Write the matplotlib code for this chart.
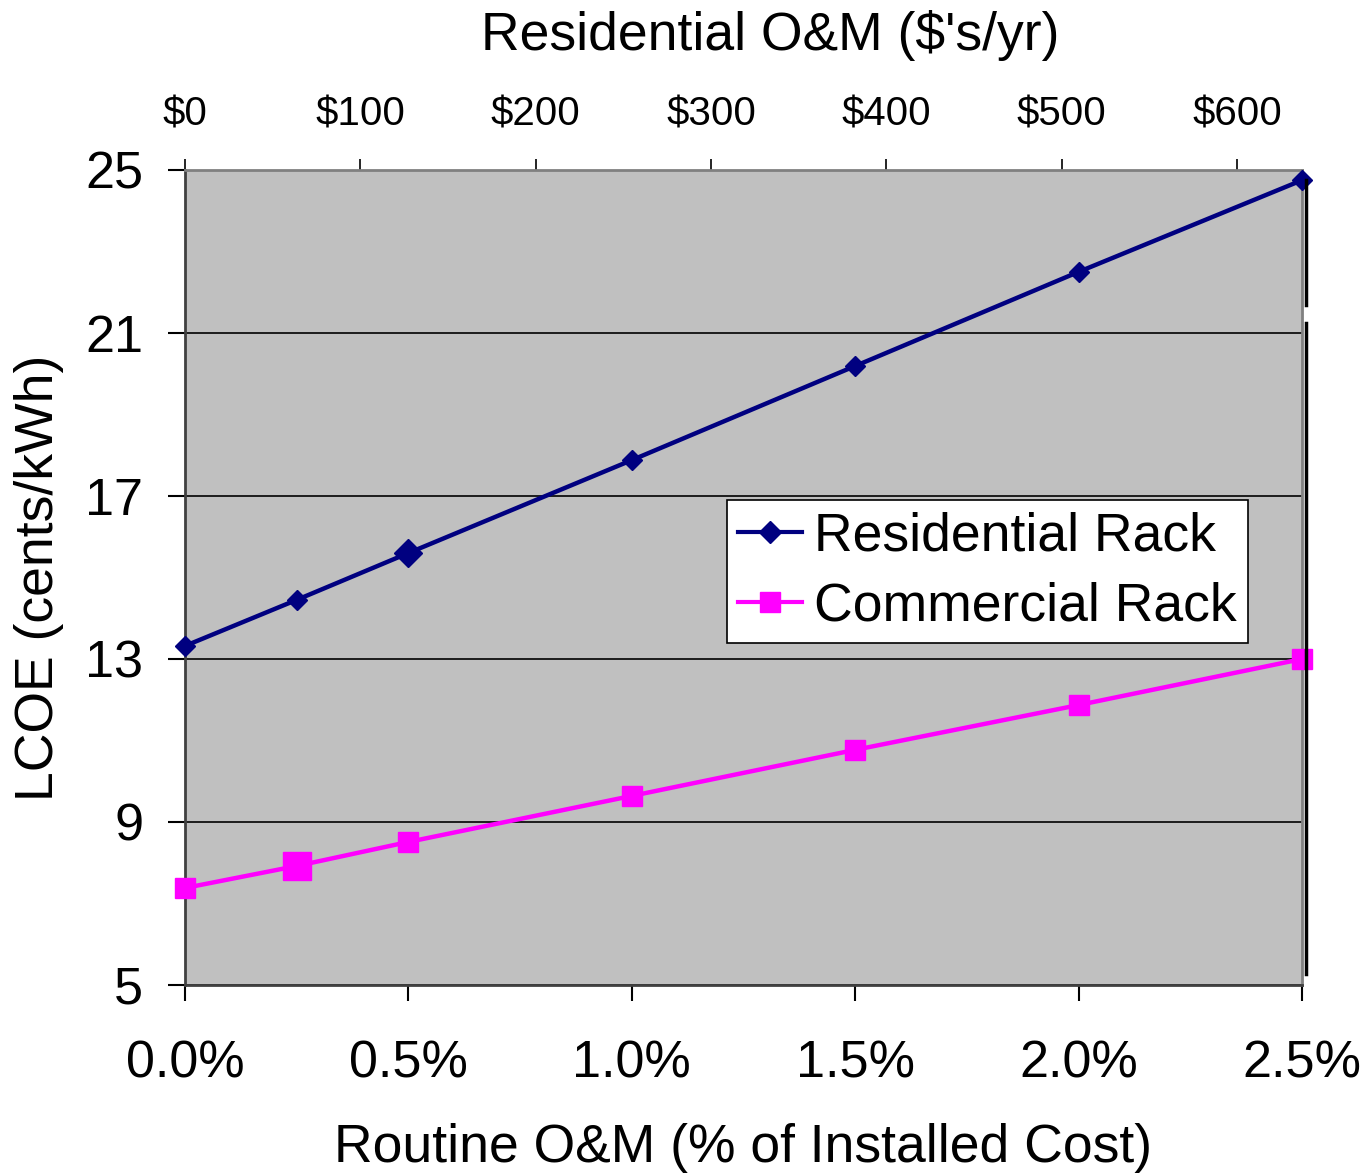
import matplotlib
matplotlib.use("Agg")
import matplotlib.pyplot as plt
from matplotlib.lines import Line2D

plt.rcParams["font.family"] = ["Liberation Sans", "DejaVu Sans"]

# routine O&M as % of installed cost, LCOE in cents/kWh
om_pct = [0.0, 0.25, 0.5, 1.0, 1.5, 2.0, 2.5]
lcoe_res = [13.32, 14.45, 15.60, 17.88, 20.19, 22.50, 24.75]
lcoe_com = [7.38, 7.92, 8.51, 9.64, 10.77, 11.87, 13.00]

# $/yr of residential O&M per 1% of installed cost
RES_DOLLARS_PER_PCT = 254.8

x_ticks = [0.0, 0.5, 1.0, 1.5, 2.0, 2.5]
x_labels = ["0.0%", "0.5%", "1.0%", "1.5%", "2.0%", "2.5%"]
y_ticks = [5, 9, 13, 17, 21, 25]
top_ticks = [0, 100, 200, 300, 400, 500, 600]
top_labels = ["$0", "$100", "$200", "$300", "$400", "$500", "$600"]

NAVY = "#000080"
MAGENTA = "#FF00FF"

fig = plt.figure(figsize=(13.69, 11.74), dpi=100)
ax = fig.add_axes([0.1351, 0.1610, 0.8160, 0.6942])
ax.set_facecolor("#C0C0C0")

ax.set_xlim(0, 2.5)
ax.set_ylim(5, 25)
ax.set_yticks(y_ticks)
ax.yaxis.grid(True, color="black", linewidth=1.2)
ax.set_axisbelow(True)

ax.plot(om_pct, lcoe_res, color=NAVY, lw=3.2, zorder=3)
ax.plot(om_pct, lcoe_com, color=MAGENTA, lw=3.2, zorder=3)
# a couple of the markers come out oversized
res_ms = [10, 10, 14.5, 10, 10, 10, 10]
com_ms = [14, 20, 14, 14, 14, 14, 14]
for x, y, m in zip(om_pct, lcoe_res, res_ms):
    ax.plot(x, y, marker="D", ms=m, color=NAVY, mec=NAVY, clip_on=False, zorder=4)
for x, y, m in zip(om_pct, lcoe_com, com_ms):
    ax.plot(x, y, marker="s", ms=m, color=MAGENTA, mec=MAGENTA, clip_on=False, zorder=4)

ax.set_xticks(x_ticks)
ax.set_xticklabels(x_labels)
ax.tick_params(axis="x", direction="out", length=11.5, width=1.5, pad=27.5,
               labelsize=37.5, colors="black")
ax.tick_params(axis="y", direction="out", length=12, width=1.5, pad=18,
               labelsize=37.5)
for side in ["top", "right"]:
    ax.spines[side].set_color("#808080")
    ax.spines[side].set_linewidth(2)
for side in ["left", "bottom"]:
    ax.spines[side].set_color("#404040")
    ax.spines[side].set_linewidth(2)

ax.set_xlabel("Routine O&M (% of Installed Cost)", fontsize=38.5, labelpad=25)
ax.set_ylabel("LCOE (cents/kWh)", fontsize=38.5, labelpad=15)

top = ax.secondary_xaxis("top", functions=(lambda p: p * RES_DOLLARS_PER_PCT,
                                           lambda d: d / RES_DOLLARS_PER_PCT))
top.set_xticks(top_ticks)
top.set_xticklabels(top_labels)
top.tick_params(direction="out", length=8, width=1.2, pad=18, labelsize=29)
top.spines["top"].set_visible(False)
fig.text(0.563, 0.970, "Residential O&M ($'s/yr)", fontsize=38.5,
         ha="center", va="center")

handles = [
    Line2D([], [], color=NAVY, lw=3, marker="D", ms=11, label="Residential Rack"),
    Line2D([], [], color=MAGENTA, lw=3, marker="s", ms=14, label="Commercial Rack"),
]
leg = ax.legend(handles=handles, loc="upper left", bbox_to_anchor=(0.485, 0.595),
                borderaxespad=0, fontsize=38.5, frameon=True, fancybox=False,
                edgecolor="black", framealpha=1, handlelength=1.2,
                handletextpad=0.22, borderpad=0.21, labelspacing=0.38)
leg.get_frame().set_linewidth(1.2)

# dark edge line along the right side of the plot area
fig.add_artist(Line2D([0.954, 0.954], [0.8467, 0.740], color="black", lw=2.5))
fig.add_artist(Line2D([0.954, 0.954], [0.7249, 0.1704], color="black", lw=2.5))

fig.savefig("out.png", dpi=100)
